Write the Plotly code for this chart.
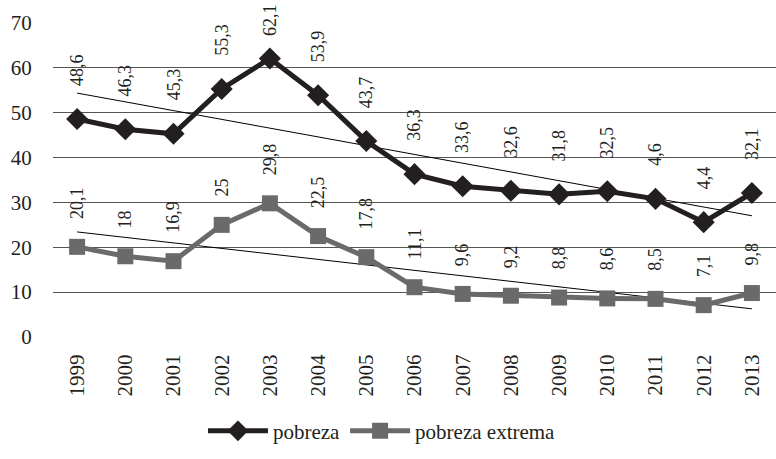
import numpy as np
import plotly.graph_objects as go

years = ["1999", "2000", "2001", "2002", "2003", "2004", "2005", "2006",
         "2007", "2008", "2009", "2010", "2011", "2012", "2013"]
pobreza = [48.6, 46.3, 45.3, 55.3, 62.1, 53.9, 43.7, 36.3, 33.6, 32.6, 31.8, 32.5, 30.8, 25.6, 32.1]
pobreza_labels = ["48,6", "46,3", "45,3", "55,3", "62,1", "53,9", "43,7", "36,3",
                  "33,6", "32,6", "31,8", "32,5", "4,6", "4,4", "32,1"]
extrema = [20.1, 18, 16.9, 25, 29.8, 22.5, 17.8, 11.1, 9.6, 9.2, 8.8, 8.6, 8.5, 7.1, 9.8]
extrema_labels = ["20,1", "18", "16,9", "25", "29,8", "22,5", "17,8", "11,1",
                  "9,6", "9,2", "8,8", "8,6", "8,5", "7,1", "9,8"]
y_ticks = [0, 10, 20, 30, 40, 50, 60, 70]

FONT = "'Liberation Serif', 'Times New Roman', 'DejaVu Serif', serif"
BLACK = "#231f20"
GRAY = "#6a6a6d"

W, H = 776, 459
M_L, M_R, M_T, M_B = 53, 0, 23, 122
Y_MAX = 70
ppu = (H - M_T - M_B) / Y_MAX  # pixels per data unit
LABEL_LEN = 34

idx = np.arange(len(years))
fig = go.Figure()

# trend lines (linear fit)
for vals in (pobreza, extrema):
    m, b = np.polyfit(idx, vals, 1)
    fig.add_trace(go.Scatter(x=years, y=m * idx + b, mode="lines",
                             line=dict(color="black", width=1),
                             showlegend=False, hoverinfo="skip"))

fig.add_trace(go.Scatter(x=years, y=pobreza, mode="lines+markers", name="pobreza",
                         line=dict(color=BLACK, width=5),
                         marker=dict(symbol="diamond", size=17, color=BLACK)))
fig.add_trace(go.Scatter(x=years, y=extrema, mode="lines+markers", name="pobreza extrema",
                         line=dict(color=GRAY, width=5),
                         marker=dict(symbol="square", size=16, color=GRAY)))

for vals, labels, base in ((pobreza, pobreza_labels, 31), (extrema, extrema_labels, 26)):
    for i, (v, t) in enumerate(zip(vals, labels)):
        room = (Y_MAX - v) * ppu + M_T - LABEL_LEN - 4
        shift = min(base, room)
        fig.add_annotation(x=i, y=v, xref="x", yref="y", text=t, textangle=-90,
                           showarrow=False, yanchor="bottom", xanchor="center",
                           yshift=shift, font=dict(family=FONT, size=18, color=BLACK))

fig.update_layout(
    width=W, height=H,
    margin=dict(l=M_L, r=M_R, t=M_T, b=M_B),
    plot_bgcolor="white", paper_bgcolor="white",
    font=dict(family=FONT, size=21, color=BLACK),
    showlegend=True,
    legend=dict(orientation="h", x=0.455, xanchor="center", y=-0.30, yanchor="middle",
                itemwidth=60,
                font=dict(family=FONT, size=21, color=BLACK)),
    xaxis=dict(type="category", range=[-0.5, 14.5], tickangle=-90,
               showgrid=False, zeroline=False, showline=False,
               ticks="outside", ticklen=8, tickcolor="rgba(0,0,0,0)",
               tickfont=dict(family=FONT, size=21, color=BLACK)),
    yaxis=dict(range=[0, Y_MAX], tickvals=y_ticks, showgrid=True, gridcolor="#555555",
               gridwidth=1.2, zeroline=False, showline=False,
               ticks="outside", ticklen=16, tickcolor="rgba(0,0,0,0)",
               tickfont=dict(family=FONT, size=21, color=BLACK)),
)

fig.write_html("out.html", config={"displayModeBar": False},
               post_script="document.body.style.margin='0';")
